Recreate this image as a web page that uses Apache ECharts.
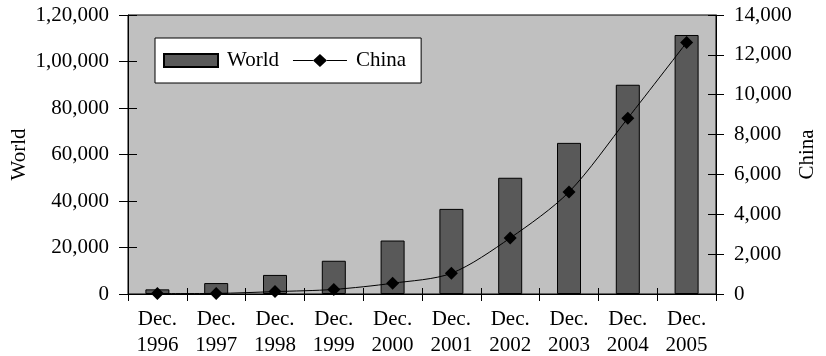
<!DOCTYPE html>
<html>
<head>
    <meta charset="utf-8">
    <title>World and China</title>
    <script src="https://cdn.jsdelivr.net/npm/echarts@6/dist/echarts.min.js"></script>
    <style>
        html, body { margin: 0; padding: 0; background: #fff; }
        #chart1 { width: 826px; height: 356px; }
    </style>
</head>
<body>
<div id="chart1"></div>
<script>
    // 数据
    var years = ['1996', '1997', '1998', '1999', '2000', '2001', '2002', '2003', '2004', '2005'];
    var worldValues = [2000, 4700, 8200, 14300, 23000, 36600, 50000, 65000, 90000, 111400];
    var chinaValues = [20, 30, 120, 230, 540, 1040, 2810, 5120, 8820, 12620];

    var fontFamily = '"Liberation Serif", "Times New Roman", serif';
    var fontSize = 21;

    // 印度式千分位: 1,20,000
    function indianFormat(v) {
        var s = String(Math.round(v));
        if (s.length <= 3) return s;
        var last3 = s.slice(-3);
        var rest = s.slice(0, -3);
        rest = rest.replace(/\B(?=(\d{2})+(?!\d))/g, ',');
        return rest + ',' + last3;
    }
    function westernFormat(v) {
        return String(v).replace(/\B(?=(\d{3})+(?!\d))/g, ',');
    }

    var categories = years.map(function (y) { return 'Dec.\n' + y; });

    var labelStyle = { color: '#000', fontFamily: fontFamily, fontSize: fontSize };

    // 图例里的 线+菱形 图标
    var lineDiamondIcon = 'path://M0,6 L20,6 L20,7 L0,7 Z M20,6.5 L27,0 L34,6.5 L27,13 Z M34,6 L54,6 L54,7 L34,7 Z';

    var chart = echarts.init(document.getElementById('chart1'));
    chart.setOption({
        animation: false,
        backgroundColor: '#fff',
        textStyle: { fontFamily: fontFamily },
        grid: {
            left: 128, right: 110, top: 15, bottom: 62,
            containLabel: false, outerBoundsMode: 'none',
            show: true, backgroundColor: '#c0c0c0', borderColor: '#000', borderWidth: 1
        },
        legend: {
            left: 155, top: 38,
            padding: [12, 15, 12, 8],
            backgroundColor: '#fff', borderColor: '#000', borderWidth: 1,
            itemWidth: 54, itemHeight: 13, itemGap: 14,
            textStyle: Object.assign({ padding: [0, 0, 0, 4] }, labelStyle),
            data: [
                { name: 'World', icon: 'rect' },
                { name: 'China', icon: lineDiamondIcon, itemStyle: { color: '#000', borderWidth: 0 } }
            ]
        },
        xAxis: [{
            type: 'category', data: categories,
            axisLine: { lineStyle: { color: '#000', width: 1 } },
            axisTick: { show: true, length: 7, lineStyle: { color: '#000' } },
            axisLabel: Object.assign({ margin: 12, lineHeight: 26 }, labelStyle),
            splitLine: { show: false }
        }, {
            type: 'category', data: categories, position: 'bottom',
            axisLine: { show: false },
            axisTick: { show: true, inside: true, length: 6, lineStyle: { color: '#000' } },
            axisLabel: { show: false },
            splitLine: { show: false }
        }],
        yAxis: [{
            type: 'value', min: 0, max: 120000, interval: 20000,
            name: 'World', nameLocation: 'middle', nameRotate: 90, nameGap: 98,
            nameMoveOverlap: false,
            nameTextStyle: labelStyle,
            axisLine: { show: true, lineStyle: { color: '#000' } },
            axisTick: { show: true, length: 9, lineStyle: { color: '#000' } },
            axisLabel: Object.assign({ margin: 19, formatter: indianFormat }, labelStyle),
            splitLine: { show: false }
        }, {
            type: 'value', min: 0, max: 14000, interval: 2000, position: 'right',
            name: 'China', nameLocation: 'middle', nameRotate: 90, nameGap: 81,
            nameMoveOverlap: false,
            nameTextStyle: labelStyle,
            axisLine: { show: true, lineStyle: { color: '#000' } },
            axisTick: { show: true, length: 8, lineStyle: { color: '#000' } },
            axisLabel: Object.assign({ margin: 18, formatter: westernFormat }, labelStyle),
            splitLine: { show: false }
        }, {
            type: 'value', min: 0, max: 120000, interval: 20000, position: 'left',
            axisLine: { show: false },
            axisTick: { show: true, inside: true, length: 9, lineStyle: { color: '#000' } },
            axisLabel: { show: false }, splitLine: { show: false }
        }, {
            type: 'value', min: 0, max: 14000, interval: 2000, position: 'right',
            axisLine: { show: false },
            axisTick: { show: true, inside: true, length: 8, lineStyle: { color: '#000' } },
            axisLabel: { show: false }, splitLine: { show: false }
        }],
        series: [{
            name: 'World', type: 'bar', data: worldValues,
            xAxisIndex: 0, yAxisIndex: 0, barWidth: 24,
            itemStyle: { color: '#595959', borderColor: '#000', borderWidth: 1 }
        }, {
            name: 'China', type: 'line', data: chinaValues,
            xAxisIndex: 0, yAxisIndex: 1, smooth: 0.3,
            symbol: 'diamond', symbolSize: 13,
            lineStyle: { color: '#000', width: 1 },
            itemStyle: { color: '#000' }
        }]
    });
</script>
</body>
</html>
